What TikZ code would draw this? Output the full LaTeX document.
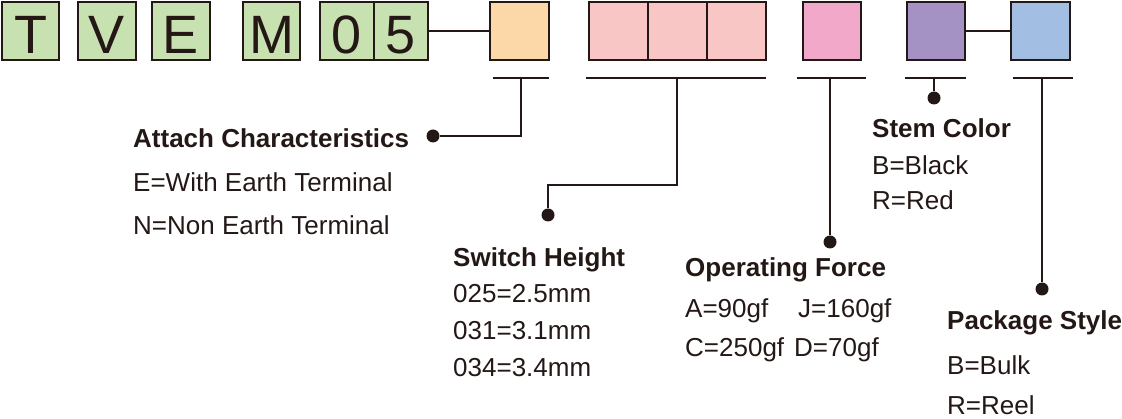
\documentclass[tikz,border=0pt]{standalone}
\usepackage{fontspec}
\setmainfont{Liberation Sans}
\usepackage{tikz}
\usetikzlibrary{positioning}
\usepackage{xcolor}
\definecolor{ink}{HTML}{231815}
\definecolor{codegreen}{HTML}{C7E1B1}
\definecolor{attachorange}{HTML}{FCD8A8}
\definecolor{heightpink}{HTML}{F8C6C4}
\definecolor{forcepink}{HTML}{F2A8C8}
\definecolor{stempurple}{HTML}{A592C5}
\definecolor{packblue}{HTML}{A3BEE3}

\begin{document}
\begin{tikzpicture}[
    x=1pt, y=-1pt,
    cell/.style={draw=ink, line width=2.6pt, minimum width=58pt, minimum height=58pt, inner sep=0pt, text=ink, font=\fontsize{54}{60}\selectfont, text height=45pt, text depth=0pt},
    lead/.style={draw=ink, line width=2pt},
    dot/.style={circle, fill=ink, minimum size=13pt, inner sep=0pt},
    head/.style={anchor=base west, inner sep=0pt, text=ink, font=\fontsize{26}{30}\selectfont\bfseries},
    item/.style={anchor=base west, inner sep=0pt, text=ink, font=\fontsize{26}{30}\selectfont}
]
\useasboundingbox (0,0) rectangle (1122,419);

% code boxes
\node[cell, fill=codegreen, minimum width=57pt] (cT) at (30.5,31) {T};
\node[cell, fill=codegreen] (cV) at (107,31) {V};
\node[cell, fill=codegreen] (cE) at (181,31) {E};
\node[cell, fill=codegreen, minimum width=57pt] (cM) at (271.5,31) {M};
\node[cell, fill=codegreen, minimum width=54pt] (c0) at (347,31) {0};
\node[cell, fill=codegreen, minimum width=54pt] (c5) at (401,31) {5};
\node[cell, fill=attachorange, minimum width=59pt] (cAttach) at (519.5,31) {};
\node[cell, fill=heightpink, minimum width=59pt] (cHeightA) at (618.5,31) {};
\node[cell, fill=heightpink, minimum width=59pt] (cHeightB) at (677.5,31) {};
\node[cell, fill=heightpink, minimum width=59pt] (cHeightC) at (736.5,31) {};
\node[cell, fill=forcepink] (cForce) at (832,31) {};
\node[cell, fill=stempurple] (cStem) at (936,31) {};
\node[cell, fill=packblue, minimum width=59pt] (cPack) at (1040.5,31) {};

\draw[lead] (c5) -- (cAttach);
\draw[lead] (cStem) -- (cPack);

% underlines
\draw[lead] (493,78) -- (549,78);
\draw[lead] (586,78) -- (766,78);
\draw[lead] (797,78) -- (866,78);
\draw[lead] (905,78) -- (966,78);
\draw[lead] (1013,78) -- (1073,78);

% leaders
\coordinate (tAttach) at (521,78);
\coordinate (tHeight) at (677,78);
\coordinate (tForce) at (830,78);
\coordinate (tStem) at (934,78);
\coordinate (tPack) at (1042,78);
\node[dot] (dAttach) at (433,136) {};
\node[dot] (dHeight) at (548,215) {};
\node[dot] (dForce) at (830,242) {};
\node[dot] (dStem) at (934,98) {};
\node[dot] (dPack) at (1042,289) {};
\draw[lead] (tAttach) |- (dAttach);
\draw[lead] (tHeight) -- ++(0,107) -| (dHeight);
\draw[lead] (tForce) -- (dForce);
\draw[lead] (tStem) -- (dStem);
\draw[lead] (tPack) -- (dPack);

% legends
\node[head] (attachHead) at (133,148) {Attach Characteristics};
\node[item] (attachE) at (133,192) {E=With Earth Terminal};
\node[item] (attachN) at (133,235) {N=Non Earth Terminal};

\node[head] (heightHead) at (453,267) {Switch Height};
\node[item] (height025) at (453,303) {025=2.5mm};
\node[item] (height031) at (453,340) {031=3.1mm};
\node[item] (height034) at (453,377) {034=3.4mm};

\node[head] (forceHead) at (685,277) {Operating Force};
\node[item] (forceA) at (685,318) {A=90gf};
\node[item] (forceJ) at (798,318) {J=160gf};
\node[item] (forceC) at (685,357) {C=250gf};
\node[item] (forceD) at (794,357) {D=70gf};

\node[head] (stemHead) at (872,138) {Stem Color};
\node[item] (stemB) at (872,175) {B=Black};
\node[item] (stemR) at (872,210) {R=Red};

\node[head] (packHead) at (947,330) {Package Style};
\node[item] (packB) at (947,375) {B=Bulk};
\node[item] (packR) at (947,414) {R=Reel};
\end{tikzpicture}
\end{document}
